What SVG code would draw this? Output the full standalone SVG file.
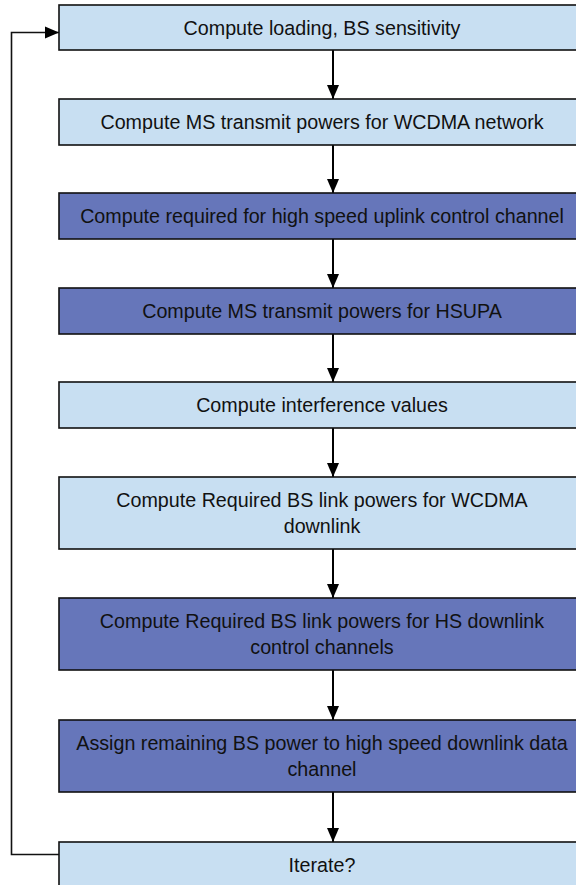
<svg xmlns="http://www.w3.org/2000/svg" width="576" height="885" viewBox="0 0 576 885">
  <style>
    .box { stroke: #111; stroke-width: 1.6; }
    .light { fill: #c8dff2; }
    .dark { fill: #6676ba; }
    .lbl { font-family: "Liberation Sans", Arial, sans-serif; font-size: 19.7px; fill: #111; text-anchor: middle; }
    .flow { fill: none; stroke: #000; stroke-width: 2; }
    .loop { fill: none; stroke: #111; stroke-width: 1.6; }
  </style>
  <defs>
    <marker id="head" markerUnits="userSpaceOnUse" markerWidth="14" markerHeight="14" viewBox="0 0 14 12" refX="14" refY="6" orient="auto">
      <path d="M0,0 L14,6 L0,12 Z" fill="#000"/>
    </marker>
  </defs>

  <rect width="576" height="885" fill="#fff"/>

  <g id="connectors">
    <line class="flow" x1="333" y1="50" x2="333" y2="99" marker-end="url(#head)"/>
    <line class="flow" x1="333" y1="145" x2="333" y2="193" marker-end="url(#head)"/>
    <line class="flow" x1="333" y1="239" x2="333" y2="288" marker-end="url(#head)"/>
    <line class="flow" x1="333" y1="334" x2="333" y2="382" marker-end="url(#head)"/>
    <line class="flow" x1="333" y1="428" x2="333" y2="477" marker-end="url(#head)"/>
    <line class="flow" x1="333" y1="549" x2="333" y2="598" marker-end="url(#head)"/>
    <line class="flow" x1="333" y1="670" x2="333" y2="720" marker-end="url(#head)"/>
    <line class="flow" x1="333" y1="792" x2="333" y2="842" marker-end="url(#head)"/>
    <!-- feedback loop from the iterate step back to the top -->
    <path class="loop" d="M59,854.5 H11.5 V32.5 H59" marker-end="url(#head)"/>
  </g>

  <g id="n1">
    <rect class="box light" x="59" y="5" width="526" height="45"/>
    <text class="lbl" x="322" y="34.5">Compute loading, BS sensitivity</text>
  </g>
  <g id="n2">
    <rect class="box light" x="59" y="99" width="526" height="46"/>
    <text class="lbl" x="322" y="129">Compute MS transmit powers for WCDMA network</text>
  </g>
  <g id="n3">
    <rect class="box dark" x="59" y="193" width="526" height="46"/>
    <text class="lbl" x="322" y="223">Compute required for high speed uplink control channel</text>
  </g>
  <g id="n4">
    <rect class="box dark" x="59" y="288" width="526" height="46"/>
    <text class="lbl" x="322" y="318">Compute MS transmit powers for HSUPA</text>
  </g>
  <g id="n5">
    <rect class="box light" x="59" y="382" width="526" height="46"/>
    <text class="lbl" x="322" y="412">Compute interference values</text>
  </g>
  <g id="n6">
    <rect class="box light" x="59" y="477" width="526" height="72"/>
    <text class="lbl" x="322" y="507">Compute Required BS link powers for WCDMA</text>
    <text class="lbl" x="322" y="533">downlink</text>
  </g>
  <g id="n7">
    <rect class="box dark" x="59" y="598" width="526" height="72"/>
    <text class="lbl" x="322" y="628">Compute Required BS link powers for HS downlink</text>
    <text class="lbl" x="322" y="654">control channels</text>
  </g>
  <g id="n8">
    <rect class="box dark" x="59" y="720" width="526" height="72"/>
    <text class="lbl" x="322" y="750">Assign remaining BS power to high speed downlink data</text>
    <text class="lbl" x="322" y="776">channel</text>
  </g>
  <g id="n9">
    <rect class="box light" x="59" y="842" width="526" height="48"/>
    <text class="lbl" x="322" y="872">Iterate?</text>
  </g>
</svg>
